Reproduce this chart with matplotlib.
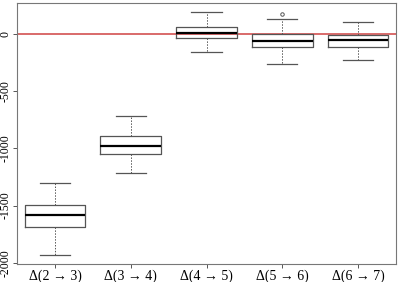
import matplotlib
matplotlib.use("Agg")
import matplotlib.pyplot as plt

labels = ["Δ(2 → 3)", "Δ(3 → 4)", "Δ(4 → 5)", "Δ(5 → 6)", "Δ(6 → 7)"]
whislo = [-1930, -1214, -157, -268, -232]
q1 = [-1684, -1048, -41, -117, -117]
med = [-1580, -981, 5, -64, -52]
q3 = [-1497, -894, 59, 0, -12]
whishi = [-1300, -720, 190, 131, 105]
fliers = [[], [], [], [171], []]

plt.rcParams['font.family'] = ['Liberation Serif', 'DejaVu Serif']

stats = []
for i in range(len(labels)):
    stats.append(dict(label=labels[i], whislo=whislo[i], q1=q1[i], med=med[i],
                      q3=q3[i], whishi=whishi[i], fliers=fliers[i]))

fig = plt.figure(figsize=(3.98, 2.82), dpi=100)
ax = fig.add_axes([0.043, 0.064, 0.952, 0.926])

ax.bxp(stats, positions=range(1, 6), widths=0.8,
       boxprops=dict(color="#555555", linewidth=0.9),
       medianprops=dict(color="black", linewidth=1.6),
       whiskerprops=dict(color="#555555", linewidth=0.7, linestyle=(0, (1.5, 1.5))),
       capprops=dict(color="#555555", linewidth=0.9),
       capwidths=0.4,
       flierprops=dict(marker="o", markersize=2.5, markerfacecolor="none",
                       markeredgecolor="#555555", markeredgewidth=0.7))

ax.axhline(0, color="#cc3333", linewidth=1.2, alpha=0.85, zorder=0)

ax.set_xlim(0.5, 5.5)
ax.set_ylim(-2010, 270)
ax.set_yticks([0, -500, -1000, -1500, -2000])
ax.set_yticklabels(["0", "-500", "-1000", "-1500", "-2000"], rotation=90, va="center")
ax.tick_params(axis="y", labelsize=8.5, length=3, width=0.7, color="#555555", pad=1)
ax.tick_params(axis="x", labelsize=10, length=3, width=0.7, color="#555555", pad=1)
for s in ax.spines.values():
    s.set_color("#777777")
    s.set_linewidth(0.8)

fig.savefig("out.png", dpi=100)
